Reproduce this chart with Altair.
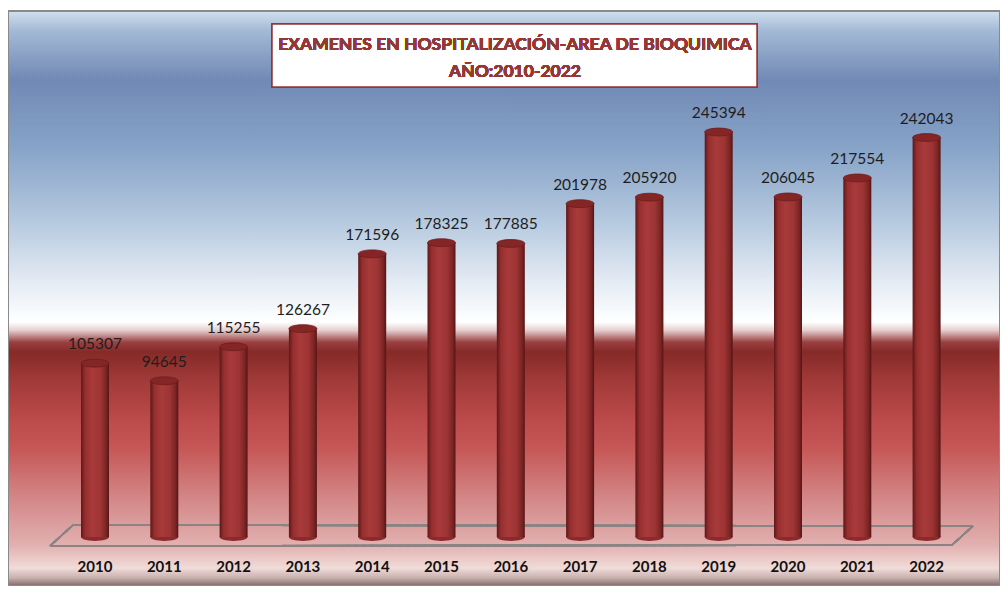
import altair as alt
import pandas as pd

# ---- data ----
years = [2010, 2011, 2012, 2013, 2014, 2015, 2016, 2017, 2018, 2019, 2020, 2021, 2022]
values = [105307, 94645, 115255, 126267, 171596, 178325, 177885, 201978, 205920, 245394, 206045, 217554, 242043]
title_lines = ["EXAMENES EN HOSPITALIZACIÓN-AREA DE BIOQUIMICA", "AÑO:2010-2022"]

df = pd.DataFrame({"year": years, "value": values, "zero": [0] * len(years)})

W, H = 992, 578
xscale = alt.Scale(domain=[2008.7446, 2023.0592], nice=False, zero=False, padding=0)
yscale = alt.Scale(domain=[-29690, 320528], nice=False, zero=False, padding=0)

X = alt.X("year:Q", scale=xscale, axis=None)
Y = alt.Y("value:Q", scale=yscale, axis=None)
Y0 = alt.Y("zero:Q", scale=yscale, axis=None)

bg_grad = alt.Gradient(
    gradient="linear", x1=0, x2=0, y1=0, y2=1,
    stops=[
        alt.GradientStop(offset=0.0, color="#d2e0ee"),
        alt.GradientStop(offset=0.033, color="#a4bad6"),
        alt.GradientStop(offset=0.12, color="#7189b5"),
        alt.GradientStop(offset=0.242, color="#88a4c8"),
        alt.GradientStop(offset=0.363, color="#b4c8de"),
        alt.GradientStop(offset=0.468, color="#e2eaf3"),
        alt.GradientStop(offset=0.541, color="#ffffff"),
        alt.GradientStop(offset=0.555, color="#e6d0d0"),
        alt.GradientStop(offset=0.576, color="#9a4040"),
        alt.GradientStop(offset=0.593, color="#862a28"),
        alt.GradientStop(offset=0.642, color="#a03a38"),
        alt.GradientStop(offset=0.711, color="#bc4a4a"),
        alt.GradientStop(offset=0.763, color="#c65858"),
        alt.GradientStop(offset=0.85, color="#d48888"),
        alt.GradientStop(offset=0.929, color="#e2b0b0"),
        alt.GradientStop(offset=0.969, color="#f0dcd8"),
        alt.GradientStop(offset=0.986, color="#c8b0ae"),
        alt.GradientStop(offset=1.0, color="#806868"),
    ],
)

bar_grad = alt.Gradient(
    gradient="linear", x1=0, x2=1, y1=0, y2=0,
    stops=[
        alt.GradientStop(offset=0.0, color="#5e1818"),
        alt.GradientStop(offset=0.15, color="#962f2f"),
        alt.GradientStop(offset=0.4, color="#a83a3a"),
        alt.GradientStop(offset=0.7, color="#9e3434"),
        alt.GradientStop(offset=0.9, color="#7a2424"),
        alt.GradientStop(offset=1.0, color="#561414"),
    ],
)

base = alt.Chart(df)

background = base.mark_rect(fill=bg_grad, stroke="#8a8a8a", strokeWidth=2).encode(
    x=alt.value(0), x2=alt.value(W), y=alt.value(3), y2=alt.value(H)
)

def rule(x1, y1, x2, y2):
    return base.mark_rule(color="#8c8484", strokeWidth=1.5).encode(
        x=alt.value(x1), y=alt.value(y1), x2=alt.value(x2), y2=alt.value(y2)
    )

floor = (rule(42, 538, 65, 517) + rule(65, 517, 965, 518) +
         rule(965, 518, 944, 537) + rule(944, 537, 42, 538))

ellipse = ("M-1,0 C-1,-0.1546 -0.5523,-0.28 0,-0.28 C0.5523,-0.28 1,-0.1546 1,0 "
           "C1,0.1546 0.5523,0.28 0,0.28 C-0.5523,0.28 -1,0.1546 -1,0 Z")

bottoms = base.mark_point(shape=ellipse, filled=True, size=784, fill="#8a2a2a", opacity=1,
                          strokeWidth=0).encode(x=X, y=Y0)

bars = base.mark_bar(width=28, fill=bar_grad).encode(x=X, y=Y)

tops = base.mark_point(shape=ellipse, filled=True, size=784, fill="#842626", opacity=1,
                       stroke="#6e1c1c", strokeWidth=0.8).encode(x=X, y=Y)

labels = base.mark_text(font="Lato", fontSize=15.5, color="#1e1e1e", baseline="middle",
                        dy=-19).encode(x=X, y=Y, text=alt.Text("value:Q", format="d"))

year_labels = base.mark_text(font="Lato", fontSize=15, fontWeight="bold", color="#111111",
                             baseline="middle").encode(
    x=X, y=alt.value(559), text=alt.Text("year:Q", format="d"))

title_box = base.mark_rect(fill="#ffffff", stroke="#953735", strokeWidth=1.5).encode(
    x=alt.value(264), x2=alt.value(749), y=alt.value(16), y2=alt.value(79)
)
t1 = base.mark_text(text=title_lines[0], font="Lato", fontSize=17.5, fontWeight="bold",
                    color="#953735", baseline="middle").encode(x=alt.value(507), y=alt.value(37))
t2 = base.mark_text(text=title_lines[1], font="Lato", fontSize=17.5, fontWeight="bold",
                    color="#953735", baseline="middle").encode(x=alt.value(507), y=alt.value(64))

chart = alt.layer(background, floor, bottoms, bars, tops, labels, year_labels,
                  title_box, t1, t2).properties(
    width=W, height=H, padding=0, autosize=alt.AutoSizeParams(type="none")
).configure_view(stroke=None)

chart.save("out.html", embed_options={"renderer": "svg", "actions": False})
